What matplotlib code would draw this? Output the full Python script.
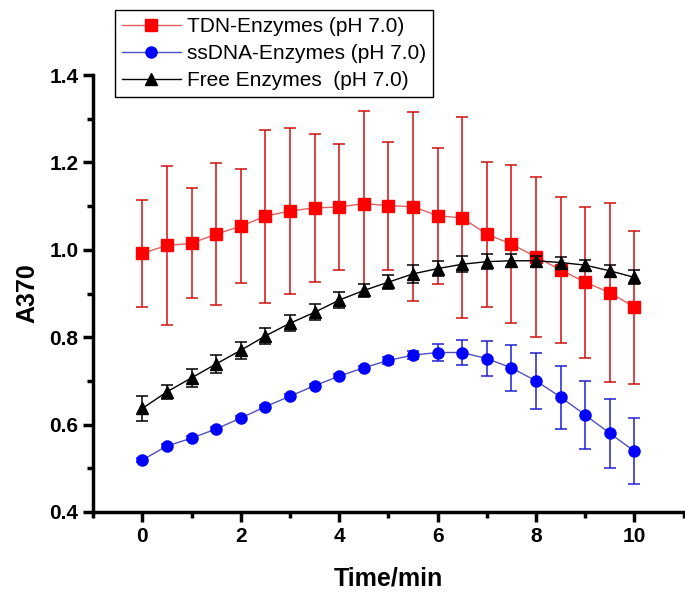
import numpy as np
import matplotlib
matplotlib.use('Agg')
import matplotlib.pyplot as plt
from matplotlib.ticker import MultipleLocator

plt.rcParams['font.family'] = ['Liberation Sans', 'DejaVu Sans']

# time points (min)
t = [0, 0.5, 1, 1.5, 2, 2.5, 3, 3.5, 4, 4.5, 5,
     5.5, 6, 6.5, 7, 7.5, 8, 8.5, 9, 9.5, 10]

# TDN-Enzymes
tdn = [0.992, 1.010, 1.015, 1.036, 1.054, 1.077, 1.089, 1.096, 1.098, 1.106, 1.101,
       1.099, 1.078, 1.073, 1.036, 1.013, 0.984, 0.954, 0.926, 0.902, 0.869]
tdn_err = [0.123, 0.183, 0.126, 0.162, 0.131, 0.198, 0.191, 0.169, 0.145, 0.211, 0.146,
           0.217, 0.156, 0.230, 0.166, 0.181, 0.183, 0.168, 0.173, 0.205, 0.175]

# ssDNA-Enzymes
ss = [0.519, 0.551, 0.569, 0.590, 0.615, 0.641, 0.665, 0.689, 0.711, 0.730, 0.747,
      0.759, 0.765, 0.765, 0.751, 0.730, 0.700, 0.663, 0.622, 0.580, 0.539]
ss_err = [0.004, 0.004, 0.004, 0.004, 0.004, 0.004, 0.004, 0.004, 0.005, 0.005, 0.008,
          0.010, 0.019, 0.028, 0.040, 0.053, 0.065, 0.072, 0.077, 0.079, 0.076]

# Free Enzymes
free = [0.637, 0.675, 0.707, 0.739, 0.770, 0.803, 0.832, 0.857, 0.885, 0.907, 0.926,
        0.945, 0.957, 0.967, 0.973, 0.975, 0.975, 0.971, 0.965, 0.952, 0.937]
free_err = [0.029, 0.016, 0.020, 0.020, 0.019, 0.018, 0.018, 0.018, 0.019, 0.015, 0.016,
            0.020, 0.017, 0.018, 0.017, 0.015, 0.012, 0.012, 0.012, 0.014, 0.016]

fig = plt.figure(figsize=(6.85, 5.96), dpi=100)
ax = fig.add_axes([0.136, 0.141, 0.862, 0.733])

# red series
ax.errorbar(t, tdn, yerr=tdn_err, fmt='none', ecolor='#d01010', elinewidth=1.1,
            capsize=4, capthick=1.1, zorder=2)
ax.plot(t, tdn, '-', color='#e06060', lw=1, marker='s', ms=8,
        mfc='#ff0000', mec='#ff0000', zorder=3, label='TDN-Enzymes (pH 7.0)')

# blue series
ax.errorbar(t, ss, yerr=ss_err, fmt='none', ecolor='#2020d0', elinewidth=1.1,
            capsize=4, capthick=1.1, zorder=4)
ax.plot(t, ss, '-', color='#5050c0', lw=1, marker='o', ms=8,
        mfc='#0000ff', mec='#0000ff', zorder=5, label='ssDNA-Enzymes (pH 7.0)')

# black series
ax.errorbar(t, free, yerr=free_err, fmt='none', ecolor='black', elinewidth=1.1,
            capsize=4, capthick=1.1, zorder=6)
ax.plot(t, free, '-', color='black', lw=1, marker='^', ms=8,
        mfc='black', mec='black', zorder=7, label='Free Enzymes  (pH 7.0)')

ax.set_xlim(-1, 11)
ax.set_ylim(0.4, 1.4)
ax.set_xticks([0, 2, 4, 6, 8, 10])
ax.set_yticks([0.4, 0.6, 0.8, 1.0, 1.2, 1.4])
ax.xaxis.set_minor_locator(MultipleLocator(1))
ax.yaxis.set_minor_locator(MultipleLocator(0.1))
ax.yaxis.set_major_formatter(matplotlib.ticker.FormatStrFormatter('%.1f'))

for s in ['top', 'right']:
    ax.spines[s].set_visible(False)
for s in ['left', 'bottom']:
    ax.spines[s].set_linewidth(2.5)

ax.tick_params(which='major', direction='out', length=7, width=2.5,
               labelsize=15)
ax.tick_params(which='minor', direction='out', length=4, width=2.5)
for lbl in ax.get_xticklabels() + ax.get_yticklabels():
    lbl.set_fontweight('bold')

ax.set_xlabel('Time/min', fontsize=18, fontweight='bold', labelpad=15)
ax.set_ylabel('A370', fontsize=18, fontweight='bold', labelpad=7)

leg = ax.legend(loc='upper left', bbox_to_anchor=(115/685, 1 - 10/596),
                bbox_transform=fig.transFigure, borderaxespad=0,
                fontsize=15, frameon=True, fancybox=False, framealpha=1,
                edgecolor='black', handlelength=2.8, labelspacing=0.38,
                borderpad=0.35, handletextpad=0.3)
leg.get_frame().set_linewidth(1)

fig.savefig('out.png', dpi=100)
